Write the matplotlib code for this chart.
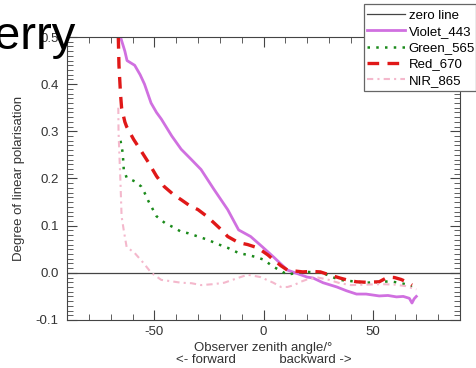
import numpy as np
import matplotlib.pyplot as plt
from matplotlib.patches import Rectangle
from matplotlib.ticker import MultipleLocator

plt.rcParams['font.family'] = ['Liberation Sans', 'DejaVu Sans']
plt.rcParams['axes.unicode_minus'] = False

# observer zenith angle (deg) and degree of linear polarisation per band
violet_x = [-65.5, -63.5, -62.5, -59, -56.5, -54.5, -51.5, -49, -46.8, -42, -37.7, -33,
            -28.6, -22.7, -16.4, -11.4, -5.9, -0.5, 4.5, 10.9, 14.5, 20, 22.7, 27.3,
            33.6, 38, 42.6, 47, 53, 57, 60.9, 64, 66.8, 68, 69, 70]
violet_y = [0.50, 0.47, 0.45, 0.44, 0.42, 0.40, 0.36, 0.34, 0.326, 0.29, 0.262, 0.24,
            0.219, 0.177, 0.134, 0.091, 0.077, 0.055, 0.034, 0.006, 0.0, -0.009, -0.011, -0.021,
            -0.03, -0.038, -0.045, -0.045, -0.049, -0.048, -0.051, -0.05, -0.054, -0.064, -0.055, -0.05]

red_x = [-66.5, -66.2, -65.5, -65, -63.5, -62.7, -59.5, -56, -52.7, -49, -45.5, -41,
         -37.7, -34, -30, -26, -22.7, -19, -16.4, -11.4, -7.3, -4, -1.4, 2, 4.5, 8,
         10.9, 14, 18, 22, 26, 30, 35, 39, 42.6, 47, 53, 57, 60, 63, 66, 68]
red_y = [0.50, 0.44, 0.38, 0.35, 0.32, 0.31, 0.283, 0.258, 0.234, 0.205, 0.183, 0.165,
         0.155, 0.143, 0.134, 0.12, 0.106, 0.09, 0.077, 0.064, 0.06, 0.055, 0.049, 0.038, 0.028, 0.015,
         0.006, 0.004, 0.002, 0.003, 0.002, -0.004, -0.011, -0.016, -0.019, -0.02, -0.019, -0.009, -0.01, -0.014, -0.02, -0.026]

green_x = [-65.5, -64.5, -64, -62.7, -59, -56, -54.5, -52.7, -49, -45, -41, -37.7, -34.5,
           -30, -25.5, -21, -16.4, -11.4, -7.3, -3, 0, 4.5, 8, 11, 15, 20, 24, 27, 31,
           35, 41, 47, 54.5, 58, 62, 65, 68]
green_y = [0.28, 0.255, 0.219, 0.202, 0.194, 0.183, 0.17, 0.152, 0.12, 0.105, 0.096, 0.087, 0.084,
           0.077, 0.07, 0.061, 0.053, 0.042, 0.038, 0.033, 0.028, 0.013, 0.004, -0.004, 0.0, 0.002, 0.001, 0.0, -0.008,
           -0.015, -0.018, -0.021, -0.019, -0.018, -0.021, -0.024, -0.03]

nir_x = [-66.5, -66.4, -66, -65.5, -65, -64, -62.7, -59, -55, -51.4, -46.8, -43.6, -37.7,
         -33, -28.6, -23, -18, -10.5, -7.3, -1.4, 4.5, 8, 11, 14, 17, 20, 25, 30, 35, 40,
         47, 54, 60, 65, 70]
nir_y = [0.35, 0.30, 0.25, 0.19, 0.12, 0.09, 0.055, 0.042, 0.021, 0.0, -0.015, -0.017, -0.021,
         -0.022, -0.026, -0.024, -0.021, -0.009, -0.004, -0.009, -0.021, -0.03, -0.03, -0.026, -0.019, -0.014, -0.01, -0.015, -0.022, -0.026,
         -0.025, -0.024, -0.025, -0.028, -0.035]

W, H = 477, 368
fig = plt.figure(figsize=(W / 100, H / 100), dpi=100)
ax = fig.add_axes([67 / W, 1 - 320 / H, 393 / W, 283 / H])

ax.axhline(0, color='#444444', lw=0.9, label='zero line')
ax.plot(violet_x, violet_y, color='#d070e0', lw=2, label='Violet_443')
ax.plot(green_x, green_y, color='#1a8a1a', lw=1.8, ls=(0, (1, 2.5)), label='Green_565')
ax.plot(red_x, red_y, color='#e01818', lw=2.4, ls=(0, (3.5, 2.5)), label='Red_670')
ax.plot(nir_x, nir_y, color='#f4b8cc', lw=1.5, ls=(0, (3, 2, 1, 2)), label='NIR_865')

ax.set_xlim(-90, 90)
ax.set_ylim(-0.1, 0.5)
ax.xaxis.set_major_locator(MultipleLocator(50))
ax.xaxis.set_minor_locator(MultipleLocator(10))
ax.yaxis.set_major_locator(MultipleLocator(0.1))
ax.yaxis.set_minor_locator(MultipleLocator(0.01))
ax.yaxis.set_major_formatter(plt.FormatStrFormatter('%.1f'))
ax.tick_params(which='both', direction='in', top=True, right=True, color='#444444',
               labelsize=9.5, labelcolor='#333333')
ax.tick_params(axis='y', pad=6)
ax.tick_params(axis='x', pad=4)
ax.tick_params(which='major', length=7, width=0.8)
ax.tick_params(which='minor', length=4, width=0.6)
for sp in ax.spines.values():
    sp.set_color('#444444')

ax.set_ylabel('Degree of linear polarisation', fontsize=9.5, color='#333333', labelpad=8)
ax.set_xlabel('Observer zenith angle/\u00b0\n<- forward            backward ->', fontsize=9.5,
              color='#333333', labelpad=3, linespacing=1.0)

# legend box is narrower than its labels in the original
fig.patches.append(Rectangle((364 / W, 1 - 91 / H), 112 / W, 87 / H, transform=fig.transFigure,
                             fill=True, facecolor='white', edgecolor='#666666', lw=0.9, zorder=3))
leg = fig.legend(loc='upper left', bbox_to_anchor=(364 / W, 1 - 7 / H), fontsize=9.5,
                 frameon=False, handlelength=2.9, handletextpad=0.3, labelspacing=0.3,
                 borderpad=0.2, borderaxespad=0)
leg.set_zorder(4)

fig.text(-0.012, 1 - 49 / H, 'erry', fontsize=34, color='black', va='baseline')

fig.savefig('out.png', dpi=100)
